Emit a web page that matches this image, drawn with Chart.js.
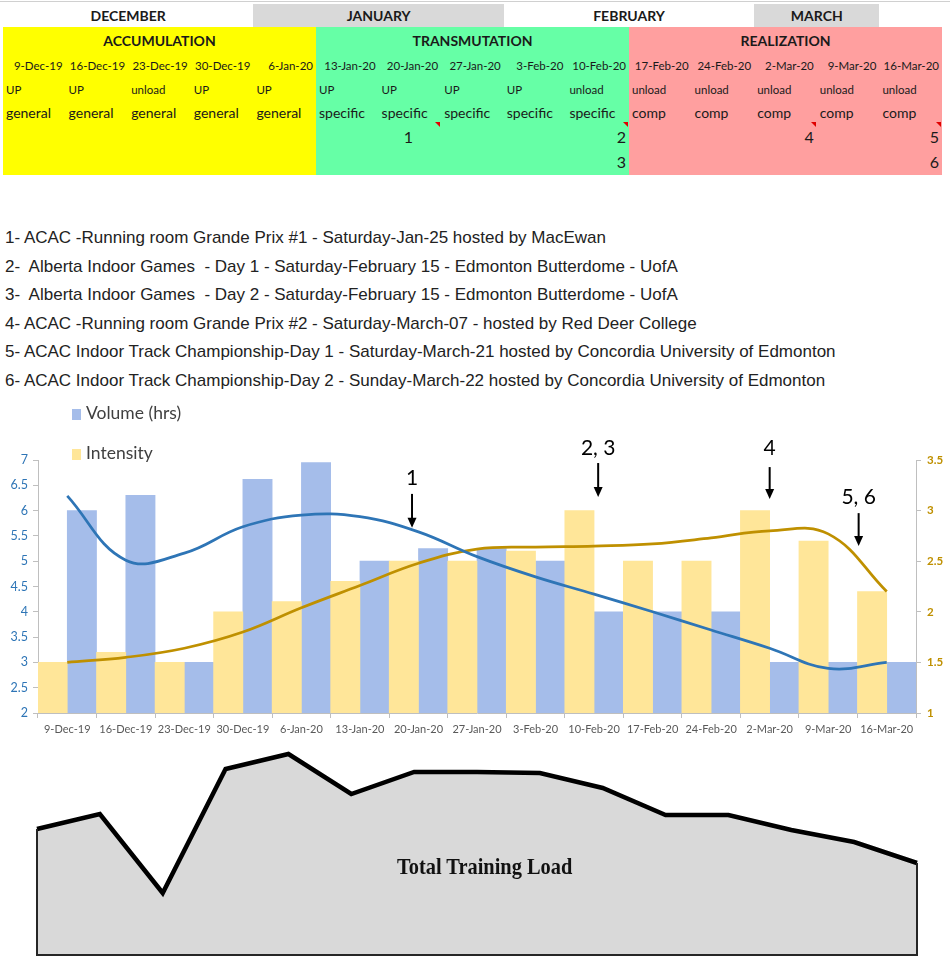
<!DOCTYPE html>
<html>
<head>
<meta charset="utf-8">
<script src="https://cdn.jsdelivr.net/npm/chart.js@4.4.1/dist/chart.umd.min.js"></script>
<style>
  body { margin: 0; width: 950px; height: 965px; position: relative; overflow: hidden; background: #fff; font-family: Lato, sans-serif; }
  .cell { position: absolute; box-sizing: border-box; white-space: nowrap; color: #1a1a1a; }
  .tri { position: absolute; width: 0; height: 0; border-top: 5px solid #e00000; border-left: 5px solid transparent; }
  #events { position: absolute; left: 5px; top: 224px; font-family: "Liberation Sans", Arial, sans-serif; font-size: 17px; line-height: 28.6px; color: #222; white-space: pre; }
  .leg { position: absolute; left: 72px; font-size: 17.5px; color: #404040; line-height: 20px; z-index: 2; }
  .leg i { display: inline-block; width: 9px; height: 11px; margin-right: 5px; vertical-align: -1px; }
  #ttl { position: absolute; left: 397px; top: 853px; font: bold 24px "Liberation Serif", "Times New Roman", serif; color: #111; transform: scaleX(0.85); transform-origin: left center; white-space: nowrap; }
</style>
</head>
<body>
<div id="sheet"></div>
<div id="events"></div>
<div class="leg" style="top:403px"><i style="background:#A5BDEA"></i>Volume (hrs)</div>
<div class="leg" style="top:443px"><i style="background:#FFE699"></i>Intensity</div>
<canvas id="loadChart" width="950" height="350" style="position:absolute;left:0;top:395px"></canvas>
<canvas id="totalChart" width="950" height="215" style="position:absolute;left:0;top:745px"></canvas>
<div id="ttl">Total Training Load</div>
<script>
// ---- data ----
const weeks = ['9-Dec-19', '16-Dec-19', '23-Dec-19', '30-Dec-19', '6-Jan-20', '13-Jan-20', '20-Jan-20', '27-Jan-20',
  '3-Feb-20', '10-Feb-20', '17-Feb-20', '24-Feb-20', '2-Mar-20', '9-Mar-20', '16-Mar-20'];
const loadType = ['UP', 'UP', 'unload', 'UP', 'UP', 'UP', 'UP', 'UP', 'UP', 'unload', 'unload', 'unload', 'unload', 'unload', 'unload'];
const focus = ['general', 'general', 'general', 'general', 'general', 'specific', 'specific', 'specific', 'specific', 'specific',
  'comp', 'comp', 'comp', 'comp', 'comp'];
const eventRow1 = ['', '', '', '', '', '', '1', '', '', '2', '', '', '4', '', '5'];
const eventRow2 = ['', '', '', '', '', '', '', '', '', '3', '', '', '', '', '6'];
const months = ['DECEMBER', 'JANUARY', 'FEBRUARY', 'MARCH'];
const monthSpan = [4, 4, 4, 2];
const phases = ['ACCUMULATION', 'TRANSMUTATION', 'REALIZATION'];
const phaseSpan = [5, 5, 5];
const eventList = [
  '1- ACAC -Running room Grande Prix #1 - Saturday-Jan-25 hosted by MacEwan',
  '2-  Alberta Indoor Games  - Day 1 - Saturday-February 15 - Edmonton Butterdome - UofA',
  '3-  Alberta Indoor Games  - Day 2 - Saturday-February 15 - Edmonton Butterdome - UofA',
  '4- ACAC -Running room Grande Prix #2 - Saturday-March-07 - hosted by Red Deer College',
  '5- ACAC Indoor Track Championship-Day 1 - Saturday-March-21 hosted by Concordia University of Edmonton',
  '6- ACAC Indoor Track Championship-Day 2 - Sunday-March-22 hosted by Concordia University of Edmonton'
];

const volume = [6.0, 6.3, 3.0, 6.62, 6.95, 5.0, 5.25, 5.25, 5.0, 4.0, 4.0, 4.0, 3.0, 3.0, 3.0];
const intensity = [1.5, 1.6, 1.5, 2.0, 2.1, 2.3, 2.5, 2.5, 2.6, 3.0, 2.5, 2.5, 3.0, 2.7, 2.2];
// trendlines at each week
const volumeTrend = [6.29, 5.02, 5.16, 5.68, 5.91, 5.88, 5.58, 5.09, 4.69, 4.35, 4.0, 3.64, 3.28, 2.88, 3.0];
const intensityTrend = [1.5, 1.55, 1.64, 1.8, 2.04, 2.26, 2.48, 2.62, 2.64, 2.65, 2.67, 2.73, 2.8, 2.77, 2.2];
const volumeTicks = [2, 2.5, 3, 3.5, 4, 4.5, 5, 5.5, 6, 6.5, 7];
const intensityTicks = [1, 1.5, 2, 2.5, 3, 3.5];
const totalLoad = [126, 141, 62, 186, 201, 161, 183, 183, 182, 167, 140, 140, 125, 113, 92];

// arrows above the chart: week index, label value, arrow start, arrow tip (volume axis)
const notes = [
  { text: '1', at: 5.89, label: 6.64, from: 6.33, to: 5.66 },
  { text: '2, 3', at: 9.07, label: 7.24, from: 6.94, to: 6.27 },
  { text: '4', at: 12.0, label: 7.24, from: 6.86, to: 6.23 },
  { text: '5, 6', at: 13.52, label: 6.27, from: 5.95, to: 5.30 }
];

// ---- spreadsheet header ----
const sheet = document.getElementById('sheet');
const colW = 62.6, x0 = 3;
function cell(txt, left, top, w, h, css) {
  const d = document.createElement('div');
  d.className = 'cell';
  d.textContent = txt;
  d.style.cssText += `left:${left}px;top:${top}px;width:${w}px;height:${h}px;line-height:${h}px;` + (css || '');
  sheet.appendChild(d);
  return d;
}
cell('', 0, 1, 950, 1, 'background:#d0d0d0');
let c = 0;
months.forEach((m, i) => {
  cell(m, x0 + c * colW, 4, monthSpan[i] * colW, 23,
    `text-align:center;font-weight:bold;font-size:14px;background:${i % 2 ? '#d9d9d9' : '#fff'}`);
  c += monthSpan[i];
});
const phaseBg = ['#FFFF00', '#66FFA6', '#FF9F9F'];
c = 0;
phases.forEach((p, i) => {
  cell('', x0 + c * colW, 27, phaseSpan[i] * colW, 148, `background:${phaseBg[i]}`);
  cell(p, x0 + c * colW, 29, phaseSpan[i] * colW, 24, 'text-align:center;font-weight:bold;font-size:14px');
  c += phaseSpan[i];
});
weeks.forEach((w, k) => {
  const l = x0 + k * colW;
  cell(w, l, 57, colW - 3, 18, 'text-align:right;font-size:11.5px');
  cell(loadType[k], l + 3, 81, colW, 18, 'font-size:11.5px');
  cell(focus[k], l + 3, 102, colW, 22, 'font-size:14px');
  if (eventRow1[k]) {
    cell(eventRow1[k], l, 126, colW - 3, 22, `font-size:16px;text-align:${k === 6 ? 'center' : 'right'}`);
    const t = document.createElement('div');
    t.className = 'tri';
    t.style.left = (l + colW - 6) + 'px';
    t.style.top = '122px';
    sheet.appendChild(t);
  }
  if (eventRow2[k]) cell(eventRow2[k], l, 151, colW - 3, 22, 'font-size:16px;text-align:right');
});
document.getElementById('events').textContent = eventList.join('\n');

// ---- volume / intensity chart ----
Chart.defaults.font.family = 'Lato';
const arrowNotes = {
  id: 'arrowNotes',
  afterDraw(chart) {
    const ctx = chart.ctx, x = chart.scales.x, y = chart.scales.y;
    ctx.save();
    ctx.fillStyle = '#000';
    ctx.strokeStyle = '#000';
    ctx.lineWidth = 2;
    ctx.font = '21px Lato';
    ctx.textAlign = 'center';
    ctx.textBaseline = 'middle';
    notes.forEach(n => {
      const px = x.getPixelForValue(n.at);
      ctx.fillText(n.text, px, y.getPixelForValue(n.label));
      const y1 = y.getPixelForValue(n.from), y2 = y.getPixelForValue(n.to);
      ctx.beginPath();
      ctx.moveTo(px, y1);
      ctx.lineTo(px, y2 - 8);
      ctx.stroke();
      ctx.beginPath();
      ctx.moveTo(px - 4.5, y2 - 10);
      ctx.lineTo(px + 4.5, y2 - 10);
      ctx.lineTo(px, y2);
      ctx.closePath();
      ctx.fill();
    });
    ctx.restore();
  }
};

const axisGrid = { drawOnChartArea: false, tickLength: 5, color: '#bfbfbf' };
new Chart(document.getElementById('loadChart'), {
  type: 'bar',
  data: {
    labels: weeks,
    datasets: [
      { label: 'Intensity', data: intensity, yAxisID: 'y1', backgroundColor: '#FFE699',
        categoryPercentage: 1, barPercentage: 1, order: 2 },
      { label: 'Volume (hrs)', data: volume, yAxisID: 'y', backgroundColor: '#A5BDEA',
        categoryPercentage: 1, barPercentage: 1, order: 2 },
      { type: 'line', label: 'Poly. (Intensity)', data: intensityTrend, yAxisID: 'y1', borderColor: '#BF9000',
        borderWidth: 2.75, pointRadius: 0, tension: 0.4, order: 1 },
      { type: 'line', label: 'Poly. (Volume (hrs))', data: volumeTrend, yAxisID: 'y', borderColor: '#2E75B6',
        borderWidth: 2.75, pointRadius: 0, tension: 0.4, order: 0 }
    ]
  },
  options: {
    responsive: false,
    animation: false,
    layout: { padding: { top: 65 } },
    plugins: { legend: { display: false }, tooltip: { enabled: false } },
    scales: {
      x: {
        grid: Object.assign({ offset: true }, axisGrid),
        border: { color: '#bfbfbf' },
        ticks: { color: '#595959', font: { size: 11 }, maxRotation: 0, autoSkip: false, padding: 5 },
        afterFit: s => { s.height = 32; }
      },
      y: {
        position: 'left', min: 2, max: 7,
        grid: axisGrid,
        border: { color: '#bfbfbf' },
        ticks: { color: '#2E75B6', font: { size: 12.5 }, padding: 5, callback: v => String(v) },
        afterBuildTicks: s => { s.ticks = volumeTicks.map(v => ({ value: v })); },
        afterFit: s => { s.width = 38; }
      },
      y1: {
        position: 'right', min: 1, max: 3.5,
        grid: axisGrid,
        border: { color: '#bfbfbf' },
        ticks: { color: '#BF9000', font: { size: 11.5, weight: 'bold' }, padding: 6, callback: v => String(v) },
        afterBuildTicks: s => { s.ticks = intensityTicks.map(v => ({ value: v })); },
        afterFit: s => { s.width = 34; }
      }
    }
  },
  plugins: [arrowNotes]
});

// ---- total training load area ----
const areaEdges = {
  id: 'areaEdges',
  afterDatasetsDraw(chart) {
    const pts = chart.getDatasetMeta(0).data;
    const base = chart.scales.y.getPixelForValue(0);
    const a = pts[0], b = pts[pts.length - 1];
    const ctx = chart.ctx;
    ctx.save();
    ctx.strokeStyle = '#262626';
    ctx.lineWidth = 2;
    ctx.beginPath();
    ctx.moveTo(a.x, a.y);
    ctx.lineTo(a.x, base);
    ctx.lineTo(b.x, base);
    ctx.lineTo(b.x, b.y);
    ctx.stroke();
    ctx.restore();
  }
};
new Chart(document.getElementById('totalChart'), {
  type: 'line',
  data: {
    labels: weeks,
    datasets: [{
      label: 'Total Training Load', data: totalLoad, fill: 'origin',
      backgroundColor: '#D9D9D9', borderColor: '#000', borderWidth: 4.5,
      pointRadius: 0, tension: 0, borderJoinStyle: 'miter'
    }]
  },
  options: {
    responsive: false,
    animation: false,
    layout: { padding: { left: 37, right: 33, top: 0, bottom: 5 } },
    plugins: { legend: { display: false }, tooltip: { enabled: false } },
    scales: {
      x: { display: false },
      y: { display: false, min: 0, max: 210 }
    }
  },
  plugins: [areaEdges]
});
</script>
</body>
</html>
